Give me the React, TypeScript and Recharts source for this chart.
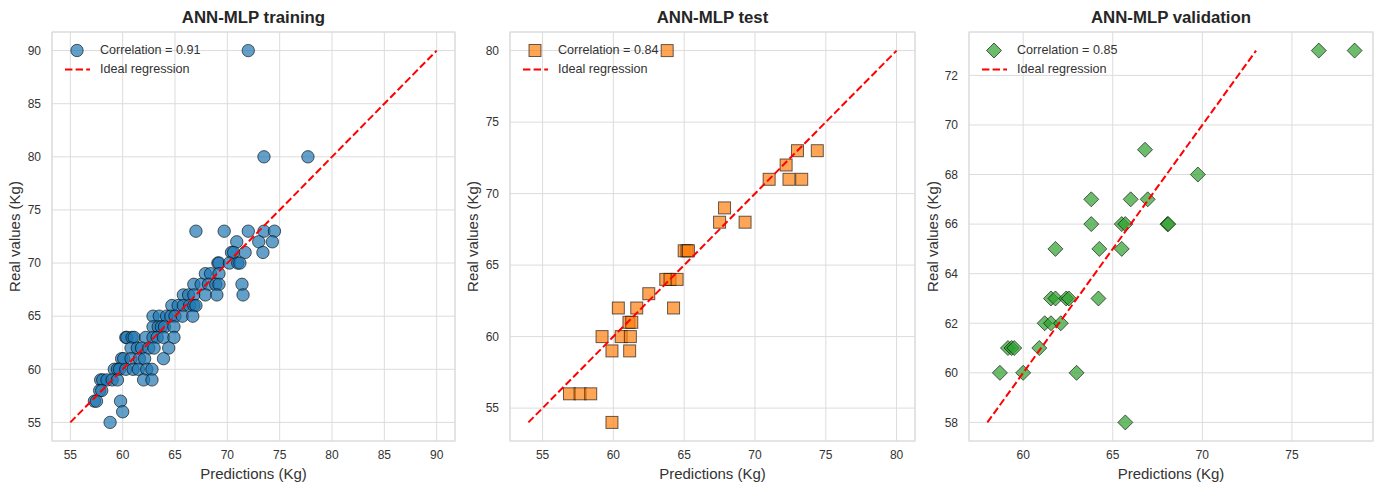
import { ScatterChart, Scatter, XAxis, YAxis, CartesianGrid, ReferenceArea, Legend } from "recharts"

// training set (predicted vs real weight)
const trainPred = [
  72.0,
  73.5, 77.7,
  67.0, 69.7, 72.0, 73.5, 74.5,
  70.9, 73.0, 74.3,
  70.4, 70.6, 71.7, 73.4,
  69.1, 69.2, 70.2, 71.0, 71.2,
  67.9, 68.4, 69.2,
  66.8, 67.5, 68.2, 68.9, 69.2, 71.4,
  65.8, 66.3, 66.8, 67.9, 69.0, 71.5,
  64.7, 65.3, 65.8, 66.4, 66.8, 67.0,
  62.9, 63.5, 64.2, 64.6, 65.0, 65.7, 66.7,
  62.9, 63.4, 63.7, 64.0, 64.9,
  60.3, 60.4, 60.9, 61.1, 62.2, 62.9, 63.3, 63.9, 64.9,
  60.8, 61.4, 61.8, 62.5, 63.0, 64.4,
  59.9, 60.1, 60.8, 61.6, 62.1, 63.9,
  59.2, 59.5, 59.7, 60.3, 61.0, 61.5, 62.3, 62.8,
  57.9, 58.1, 58.5, 59.0, 59.5, 62.0, 62.8,
  57.8, 58.0,
  57.3, 57.5, 59.8,
  60.0,
  58.8,
]
const trainReal = [
  90,
  80, 80,
  73, 73, 73, 73, 73,
  72, 72, 72,
  71, 71, 71, 71,
  70, 70, 70, 70, 70,
  69, 69, 69,
  68, 68, 68, 68, 68, 68,
  67, 67, 67, 67, 67, 67,
  66, 66, 66, 66, 66, 66,
  65, 65, 65, 65, 65, 65, 65,
  64, 64, 64, 64, 64,
  63, 63, 63, 63, 63, 63, 63, 63, 63,
  62, 62, 62, 62, 62, 62,
  61, 61, 61, 61, 61, 61,
  60, 60, 60, 60, 60, 60, 60, 60,
  59, 59, 59, 59, 59, 59, 59,
  58, 58,
  57, 57, 57,
  56,
  55,
]

// test set
const testPred = [
  63.8, 73.0, 74.4, 72.2, 71.0, 72.4, 73.3, 67.85, 67.5, 69.3,
  65.0, 65.2, 65.3, 63.7, 64.0, 64.5, 62.5, 60.35, 61.65, 64.25,
  61.1, 61.3, 59.2, 60.55, 61.2, 59.9, 61.15, 56.9, 57.65, 58.4, 59.9,
]
const testReal = [
  80, 73, 73, 72, 71, 71, 71, 69, 68, 68,
  66, 66, 66, 64, 64, 64, 63, 62, 62, 62,
  61, 61, 60, 60, 60, 59, 59, 56, 56, 56, 54,
]

// validation set
const valPred = [
  76.5, 78.5, 66.8, 69.75, 63.8, 66.0, 66.95, 63.8, 65.5, 65.7,
  68.05, 68.1, 61.8, 64.25, 65.5, 61.55, 61.8, 62.4, 62.55, 64.2,
  61.2, 61.55, 62.1, 59.15, 59.35, 59.5, 60.9, 58.7, 60.0, 62.98, 65.7,
]
const valReal = [
  73, 73, 69, 68, 67, 67, 67, 66, 66, 66,
  66, 66, 65, 65, 65, 63, 63, 63, 63, 63,
  62, 62, 62, 61, 61, 61, 61, 60, 60, 60, 58,
]

const trainTicks = [55, 60, 65, 70, 75, 80, 85, 90]
const testTicks = [55, 60, 65, 70, 75, 80]
const valXTicks = [60, 65, 70, 75]
const valYTicks = [58, 60, 62, 64, 66, 68, 70, 72]

const FONT = "'Liberation Sans', Arial, sans-serif"
const GRID = "#dcdcdc"
const TEXT = "#333"

type Kind = "circle" | "square" | "diamond"

function Marker({ kind, cx, cy, color }: { kind: Kind; cx: number; cy: number; color: string }) {
  const common = { fill: color, fillOpacity: 0.7, stroke: "#000", strokeOpacity: 0.6, strokeWidth: 1 }
  if (kind === "circle") return <circle cx={cx} cy={cy} r={6.2} {...common} />
  if (kind === "square") return <rect x={cx - 6} y={cy - 6} width={12} height={12} {...common} />
  const d = 7.5
  return <polygon points={`${cx},${cy - d} ${cx + d},${cy} ${cx},${cy + d} ${cx - d},${cy}`} {...common} />
}

// matplotlib autoscale: 5% margin around the data
function limits(values: number[]): [number, number] {
  const lo = Math.min(...values)
  const hi = Math.max(...values)
  const pad = (hi - lo) * 0.05
  return [lo - pad, hi + pad]
}

interface PanelProps {
  left: number
  title: string
  pred: number[]
  real: number[]
  xTicks: number[]
  yTicks: number[]
  color: string
  kind: Kind
  corr: string
  yAxisWidth: number
  marginRight: number
  yLabelOffset: number
}

function Panel({ left, title, pred, real, xTicks, yTicks, color, kind, corr, yAxisWidth, marginRight, yLabelOffset }: PanelProps) {
  const width = 460
  const height = 484
  const data = pred.map((p, i) => ({ x: p, y: real[i] }))
  const lo = Math.min(...real)
  const hi = Math.max(...real)
  const ideal = [{ x: lo, y: lo }, { x: hi, y: hi }]
  const xDomain = limits([...pred, lo, hi])
  const yDomain = limits(real)
  const plotWidth = width - yAxisWidth - marginRight

  const legend = () => (
    <div style={{ fontFamily: FONT, fontSize: 12.6, color: TEXT, lineHeight: "19px" }}>
      <div style={{ display: "flex", alignItems: "center", height: 19 }}>
        <svg width={38} height={19}>
          <Marker kind={kind} cx={15} cy={9.5} color={color} />
        </svg>
        <span>Correlation = {corr}</span>
      </div>
      <div style={{ display: "flex", alignItems: "center", height: 19 }}>
        <svg width={38} height={19}>
          <line x1={3} y1={9.5} x2={28} y2={9.5} stroke="red" strokeWidth={2} strokeDasharray="7.4 3.2" />
        </svg>
        <span>Ideal regression</span>
      </div>
    </div>
  )

  return (
    <div style={{ position: "absolute", left, top: 0, width, height, fontFamily: FONT }}>
      <div
        style={{
          position: "absolute",
          left: yAxisWidth,
          width: plotWidth,
          top: 10,
          textAlign: "center",
          fontWeight: "bold",
          fontSize: 16.8,
          lineHeight: "16px",
          color: "#262626",
        }}
      >
        {title}
      </div>
      <ScatterChart width={width} height={height} margin={{ top: 32, right: marginRight, bottom: 0, left: 0 }}>
        <CartesianGrid stroke={GRID} />
        <ReferenceArea x1={xDomain[0]} x2={xDomain[1]} y1={yDomain[0]} y2={yDomain[1]} fill="none" stroke={GRID} strokeWidth={1.2} />
        <XAxis
          type="number"
          dataKey="x"
          domain={xDomain}
          ticks={xTicks}
          allowDataOverflow
          interval={0}
          height={43}
          axisLine={false}
          tickLine={false}
          tickSize={6}
          tickMargin={3}
          tick={{ fill: TEXT, fontSize: 12, fontFamily: FONT }}
          label={{ value: "Predictions (Kg)", position: "insideBottom", offset: 5, fill: TEXT, fontSize: 15, fontFamily: FONT }}
        />
        <YAxis
          type="number"
          dataKey="y"
          domain={yDomain}
          ticks={yTicks}
          allowDataOverflow
          interval={0}
          width={yAxisWidth}
          axisLine={false}
          tickLine={false}
          tickSize={6}
          tickMargin={5}
          tick={{ fill: TEXT, fontSize: 12, fontFamily: FONT }}
          label={{
            value: "Real values (Kg)",
            angle: -90,
            position: "insideLeft",
            offset: yLabelOffset,
            fill: TEXT,
            fontSize: 15,
            fontFamily: FONT,
            style: { textAnchor: "middle" },
          }}
        />
        <Scatter
          data={data}
          isAnimationActive={false}
          shape={(p: any) => <Marker kind={kind} cx={p.cx} cy={p.cy} color={color} />}
        />
        <Scatter
          data={ideal}
          isAnimationActive={false}
          line={{ stroke: "red", strokeWidth: 2, strokeDasharray: "7.4 3.2" }}
          shape={() => <g />}
        />
        <Legend
          content={legend}
          layout="horizontal"
          verticalAlign="middle"
          align="center"
          wrapperStyle={{ left: yAxisWidth + 10, top: 41, width: "auto" }}
        />
      </ScatterChart>
    </div>
  )
}

export default function App() {
  return (
    <div style={{ position: "absolute", left: 0, top: 0, width: 1380, height: 484, background: "#fff" }}>
      <Panel
        left={0}
        title="ANN-MLP training"
        pred={trainPred}
        real={trainReal}
        xTicks={trainTicks}
        yTicks={trainTicks}
        color="#1f77b4"
        kind="circle"
        corr="0.91"
        yAxisWidth={52}
        marginRight={5}
        yLabelOffset={15}
      />
      <Panel
        left={460}
        title="ANN-MLP test"
        pred={testPred}
        real={testReal}
        xTicks={testTicks}
        yTicks={testTicks}
        color="#ff7f0e"
        kind="square"
        corr="0.84"
        yAxisWidth={50}
        marginRight={5}
        yLabelOffset={13}
      />
      <Panel
        left={920}
        title="ANN-MLP validation"
        pred={valPred}
        real={valReal}
        xTicks={valXTicks}
        yTicks={valYTicks}
        color="#2ca02c"
        kind="diamond"
        corr="0.85"
        yAxisWidth={49}
        marginRight={7}
        yLabelOffset={13}
      />
    </div>
  )
}
